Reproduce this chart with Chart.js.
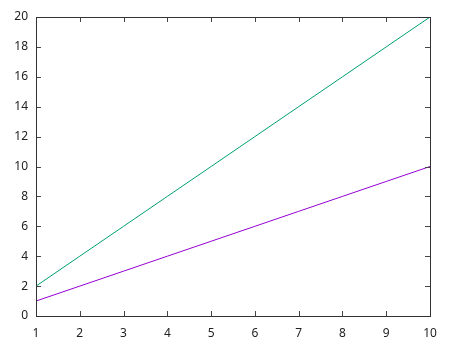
<!DOCTYPE html>
<html>
<head>
<meta charset="utf-8">
<script src="https://cdn.jsdelivr.net/npm/chart.js@4"></script>
<style>
  html, body { margin: 0; padding: 0; background: #fff; }
  #wrap { width: 450px; height: 350px; }
</style>
</head>
<body>
<div id="wrap"><canvas id="plot" width="450" height="350"></canvas></div>
<script>
// ── Data ──
const xs = [1, 2, 3, 4, 5, 6, 7, 8, 9, 10];
const purpleY = [1, 2, 3, 4, 5, 6, 7, 8, 9, 10];
const greenY = [2, 4, 6, 8, 10, 12, 14, 16, 18, 20];

const toPoints = (ys) => xs.map((x, i) => ({ x: x, y: ys[i] }));

// gnuplot-style frame with inward ticks on all four sides
const frameTicks = {
  id: "frameTicks",
  afterDraw(chart) {
    const { ctx, chartArea: a, scales } = chart;
    const len = 5;
    ctx.save();
    ctx.strokeStyle = "#444";
    ctx.lineWidth = 1;
    ctx.beginPath();
    scales.x.ticks.forEach((t) => {
      const px = Math.round(scales.x.getPixelForValue(t.value)) + 0.5;
      ctx.moveTo(px, a.bottom);
      ctx.lineTo(px, a.bottom - len);
      ctx.moveTo(px, a.top);
      ctx.lineTo(px, a.top + len);
    });
    scales.y.ticks.forEach((t) => {
      const py = Math.round(scales.y.getPixelForValue(t.value)) + 0.5;
      ctx.moveTo(a.left, py);
      ctx.lineTo(a.left + len, py);
      ctx.moveTo(a.right, py);
      ctx.lineTo(a.right - len, py);
    });
    ctx.stroke();
    ctx.strokeStyle = "#333";
    ctx.strokeRect(Math.round(a.left) + 0.5, Math.round(a.top) + 0.5,
      Math.round(a.right - a.left), Math.round(a.bottom - a.top));
    ctx.restore();
  },
};

new Chart(document.getElementById("plot"), {
  type: "line",
  data: {
    datasets: [
      {
        data: toPoints(purpleY),
        borderColor: "#9400d3",
        borderWidth: 1,
        pointRadius: 0,
        fill: false,
      },
      {
        data: toPoints(greenY),
        borderColor: "#009e73",
        borderWidth: 1,
        pointRadius: 0,
        fill: false,
      },
    ],
  },
  options: {
    responsive: false,
    animation: false,
    layout: { padding: { top: 17, right: 20, left: 0, bottom: 0 } },
    plugins: { legend: { display: false }, tooltip: { enabled: false } },
    scales: {
      x: {
        type: "linear",
        min: 1,
        max: 10,
        grid: { display: false, drawTicks: false },
        border: { display: false },
        ticks: {
          stepSize: 1,
          padding: 10,
          color: "#222",
          font: { family: "Noto Sans", size: 12 },
          maxRotation: 0,
        },
        afterFit: (s) => { s.height = 34; },
      },
      y: {
        min: 0,
        max: 20,
        grid: { display: false, drawTicks: false },
        border: { display: false },
        ticks: {
          stepSize: 2,
          padding: 8,
          color: "#222",
          font: { family: "Noto Sans", size: 12 },
        },
        afterFit: (s) => { s.width = 36; },
      },
    },
  },
  plugins: [frameTicks],
});
</script>
</body>
</html>
